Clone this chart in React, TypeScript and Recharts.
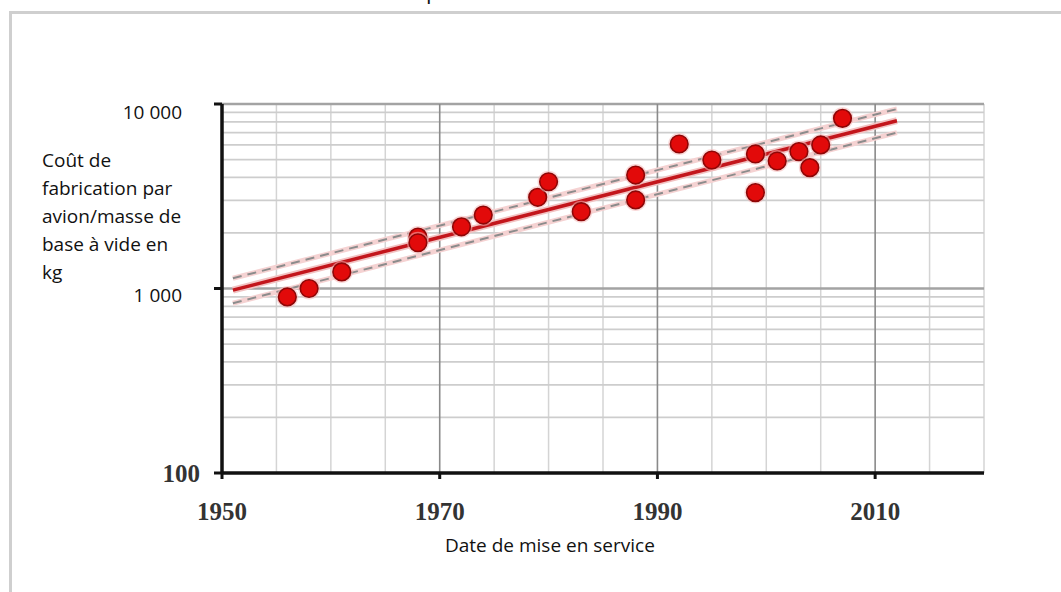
import React from 'react';
import { ScatterChart, Scatter, XAxis, YAxis, ReferenceLine } from 'recharts';

// ---- data ----
const years = [1956, 1958, 1961, 1968, 1968, 1972, 1974, 1979, 1980, 1983, 1988, 1988, 1992, 1995, 1999, 1999, 2001, 2003, 2004, 2005, 2007];
const costs = [900, 1000, 1230, 1900, 1770, 2160, 2500, 3120, 3790, 2610, 4120, 3020, 6070, 4970, 5360, 3310, 4910, 5520, 4520, 6000, 8360];

const trendYears = [1951, 2012];
const trendMid = [980, 8120];
const trendUpper = [1136, 9390];
const trendLower = [832, 6990];

const xTickValues = [1950, 1970, 1990, 2010];
const xTickLabels = ['1950', '1970', '1990', '2010'];
const yTickValues = [100, 1000, 10000];
const yTickLabels = ['100', '1 000', '10 000'];

const minorY = [200, 300, 400, 500, 600, 700, 800, 900, 2000, 3000, 4000, 5000, 6000, 7000, 8000, 9000];
const majorY = [1000, 10000];
const minorX = [1955, 1960, 1965, 1975, 1980, 1985, 1995, 2000, 2005, 2015, 2020];
const majorX = [1970, 1990, 2010];

const yTitleLines = ['Coût de', 'fabrication par', 'avion/masse de', 'base à vide en', 'kg'];
const xTitle = 'Date de mise en service';

const W = 1061;
const H = 592;

const points = years.map((x, i) => ({ x, y: costs[i] }));
const mid = trendYears.map((x, i) => ({ x, y: trendMid[i] }));
const upper = trendYears.map((x, i) => ({ x, y: trendUpper[i] }));
const lower = trendYears.map((x, i) => ({ x, y: trendLower[i] }));

const Empty = () => <g />;

const Dot = (p: any) => (
  <g>
    <circle cx={p.cx} cy={p.cy} r={11} fill="#f4b8b8" opacity={0.55} />
    <circle cx={p.cx} cy={p.cy} r={8.8} fill="#e20a0a" stroke="#8e0606" strokeWidth={1.6} />
  </g>
);

const YTick = (p: any) => {
  const i = yTickValues.indexOf(p.payload.value);
  if (i === 0) {
    return (
      <text x={p.x - 12} y={p.y + 9} textAnchor="end" fontFamily="Liberation Serif" fontWeight="bold" fontSize={25} fill="#333">
        {yTickLabels[i]}
      </text>
    );
  }
  return (
    <text x={p.x - 30} y={p.y + (i === 2 ? 15 : 13)} textAnchor="end" fontFamily="Open Sans" fontSize={19} fill="#111">
      {yTickLabels[i]}
    </text>
  );
};

const XTick = (p: any) => {
  const i = xTickValues.indexOf(p.payload.value);
  return (
    <text x={p.x} y={p.y + 39} textAnchor="middle" fontFamily="Liberation Serif" fontWeight="bold" fontSize={25} fill="#333">
      {xTickLabels[i]}
    </text>
  );
};

const YTitle = () => (
  <text fontFamily="Open Sans" fontSize={19} fill="#111">
    {yTitleLines.map((l, i) => (
      <tspan key={i} x={42} y={167 + i * 28}>{l}</tspan>
    ))}
  </text>
);

const XTitle = () => (
  <text x={445} y={552} fontFamily="Open Sans" fontSize={19} fill="#111">{xTitle}</text>
);

export default function App() {
  return (
    <div style={{ position: 'absolute', left: 0, top: 0, width: W, height: H, background: '#fff', overflow: 'hidden' }}>
      <div style={{ position: 'absolute', left: 9, top: 11, width: W, height: H, borderTop: '3px solid #cfcfcf', borderLeft: '3px solid #cfcfcf' }} />
      <svg style={{ position: 'absolute', left: 0, top: 0 }} width={W} height={20}>
        <text x={426} y={-1} fontFamily="Open Sans" fontSize={22} fill="#111">p</text>
      </svg>
      <div style={{ position: 'absolute', left: 0, top: 0 }}>
        <ScatterChart width={W} height={H} margin={{ top: 104, right: 77, bottom: 79, left: 162 }}>
          {minorX.map((v) => (
            <ReferenceLine key={'mx' + v} x={v} stroke="#d4d4d4" strokeWidth={1.5} ifOverflow="extendDomain" />
          ))}
          {minorY.map((v) => (
            <ReferenceLine key={'my' + v} y={v} stroke="#cdcdcd" strokeWidth={1.8} />
          ))}
          {majorY.map((v) => (
            <ReferenceLine key={'My' + v} y={v} stroke="#a3a3a3" strokeWidth={2.5} />
          ))}
          {majorX.map((v) => (
            <ReferenceLine key={'Mx' + v} x={v} stroke="#8a8a8a" strokeWidth={1.6} />
          ))}
          <XAxis
            dataKey="x"
            type="number"
            domain={[1950, 2020]}
            ticks={xTickValues}
            interval={0}
            allowDataOverflow
            height={40}
            tickSize={6}
            tickMargin={2}
            axisLine={{ stroke: '#111', strokeWidth: 3.5 }}
            tickLine={{ stroke: '#111', strokeWidth: 3 }}
            tick={XTick}
            label={{ content: XTitle }}
          />
          <YAxis
            dataKey="y"
            type="number"
            scale="log"
            domain={[100, 10000]}
            ticks={yTickValues}
            interval={0}
            allowDataOverflow
            width={60}
            tickSize={8}
            tickMargin={2}
            axisLine={{ stroke: '#111', strokeWidth: 3.5 }}
            tickLine={{ stroke: '#111', strokeWidth: 3 }}
            tick={YTick}
            label={{ content: YTitle }}
          />
          <Scatter data={upper} line={{ stroke: '#f5d2d2', strokeWidth: 5 }} shape={Empty} isAnimationActive={false} legendType="none" />
          <Scatter data={lower} line={{ stroke: '#f5d2d2', strokeWidth: 5 }} shape={Empty} isAnimationActive={false} legendType="none" />
          <Scatter data={upper} line={{ stroke: '#8c8c8c', strokeWidth: 2, strokeDasharray: '9 6' }} shape={Empty} isAnimationActive={false} legendType="none" />
          <Scatter data={lower} line={{ stroke: '#8c8c8c', strokeWidth: 2, strokeDasharray: '9 6' }} shape={Empty} isAnimationActive={false} legendType="none" />
          <Scatter data={mid} line={{ stroke: '#f2c2c2', strokeWidth: 7 }} shape={Empty} isAnimationActive={false} legendType="none" />
          <Scatter data={mid} line={{ stroke: '#c3161c', strokeWidth: 3.5 }} shape={Empty} isAnimationActive={false} legendType="none" />
          <Scatter data={points} shape={Dot} isAnimationActive={false} legendType="none" />
        </ScatterChart>
      </div>
    </div>
  );
}
